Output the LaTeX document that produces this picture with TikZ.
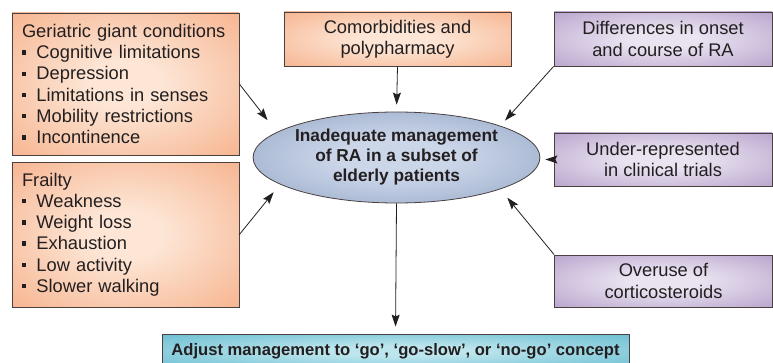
\documentclass[tikz,border=0pt]{standalone}
\usepackage{fontspec}
\setmainfont{Liberation Sans}
\usepackage{xcolor}
\usepackage{tikz}
\usetikzlibrary{shapes,shapes.geometric}
\usetikzlibrary{calc,arrows,arrows.meta,positioning}
\definecolor{orin}{HTML}{FDE6D6}
\definecolor{orout}{HTML}{F4A377}
\definecolor{puin}{HTML}{EAE4F1}
\definecolor{puout}{HTML}{A88EC0}
\definecolor{blin}{HTML}{CCD6E9}
\definecolor{blout}{HTML}{7890B5}
\definecolor{tlin}{HTML}{BCE5ED}
\definecolor{tlout}{HTML}{4DB0C8}
\definecolor{edge}{HTML}{4A4040}
\definecolor{ink}{HTML}{231F20}
\pgfdeclareradialshading{orglow}{\pgfpoint{0bp}{0bp}}{color(0bp)=(orin); color(8bp)=(orin); color(46bp)=(orout); color(80bp)=(orout)}
\pgfdeclareradialshading{puglow}{\pgfpoint{0bp}{0bp}}{color(0bp)=(puin); color(8bp)=(puin); color(46bp)=(puout); color(80bp)=(puout)}
\pgfdeclareradialshading{blglow}{\pgfpoint{0bp}{0bp}}{color(0bp)=(blin); color(10bp)=(blin); color(50bp)=(blout); color(80bp)=(blout)}
\pgfdeclareradialshading{tlglow}{\pgfpoint{0bp}{0bp}}{color(0bp)=(tlin); color(8bp)=(tlin); color(46bp)=(tlout); color(80bp)=(tlout)}
\newcommand{\bodyfont}{\fontsize{18.3}{21.2}\selectfont}
\newcommand{\boldfont}{\fontsize{17.3}{20}\selectfont\bfseries}
\newcommand{\sqbul}{\rule[0.22em]{0.24em}{0.24em}\hspace{0.55em}}
\tikzset{
  basebox/.style={rectangle, draw=edge, line width=0.8pt, shade, text=ink, inner sep=0pt},
  obox/.style={basebox, shading=orglow, font=\bodyfont},
  pbox/.style={basebox, shading=puglow, font=\bodyfont, align=center, minimum width=218, minimum height=53},
  listbox/.style={obox, minimum width=227, text width=207, align=left},
  ell_n/.style={ellipse, draw=edge, line width=0.8pt, shade, shading=blglow, text=ink, font=\boldfont, align=center, inner sep=0pt, minimum width=253, minimum height=91},
  tbox/.style={basebox, shading=tlglow, font=\fontsize{16.6}{20}\selectfont\bfseries, minimum width=467, minimum height=34},
  conn/.style={-{Stealth[length=12pt,width=8pt,inset=2pt]}, line width=0.8pt, draw=ink}
}
\begin{document}
\begin{tikzpicture}[x=1pt,y=1pt]
  \useasboundingbox (0,0) rectangle (773,362);
  \node[listbox, minimum height=142] (geri) at (125.5,278)
    {Geriatric giant conditions\\ \sqbul Cognitive limitations\\ \sqbul Depression\\
     \sqbul Limitations in senses\\ \sqbul Mobility restrictions\\ \sqbul Incontinence};
  \node[listbox, minimum height=145] (frail) at (125.5,127.5)
    {Frailty\\ \sqbul Weakness\\ \sqbul Weight loss\\ \sqbul Exhaustion\\
     \sqbul Low activity\\ \sqbul Slower walking};
  \node[obox, align=center, minimum width=227, minimum height=54] (comorb) at (397.5,323)
    {Comorbidities and\\ polypharmacy};
  \node[pbox, minimum height=54] (diff) at (663,323) {Differences in onset\\ and course of RA};
  \node[pbox] (under) at (663,202.5) {Under-represented\\ in clinical trials};
  \node[pbox, minimum height=52] (over) at (663.5,81) {Overuse of\\ corticosteroids};
  \node[ell_n] (ineq) at (396.5,204.5)
    {Inadequate management\\ of RA in a subset of\\ elderly patients};
  \node[tbox] (adjust) at (395.5,11)
    {Adjust management to ‘go’, ‘go-slow’, or ‘no-go’ concept};

  \draw[conn, shorten >=15pt] (geri.east) -- (ineq.168);
  \draw[conn, shorten >=10pt] (frail.east) -- (ineq.193);
  \draw[conn, shorten >=7pt] (comorb.south) -- (ineq.north);
  \draw[conn, shorten >=7pt] (diff.south west) -- (ineq.17);
  \draw[conn, shorten >=5pt] (under.west) -- (under.west -| ineq.east);
  \draw[conn, shorten >=11pt] (over.north west) -- (ineq.343);
  \draw[conn, shorten >=7pt] (ineq.south) -- (adjust.north);
\end{tikzpicture}
\end{document}
